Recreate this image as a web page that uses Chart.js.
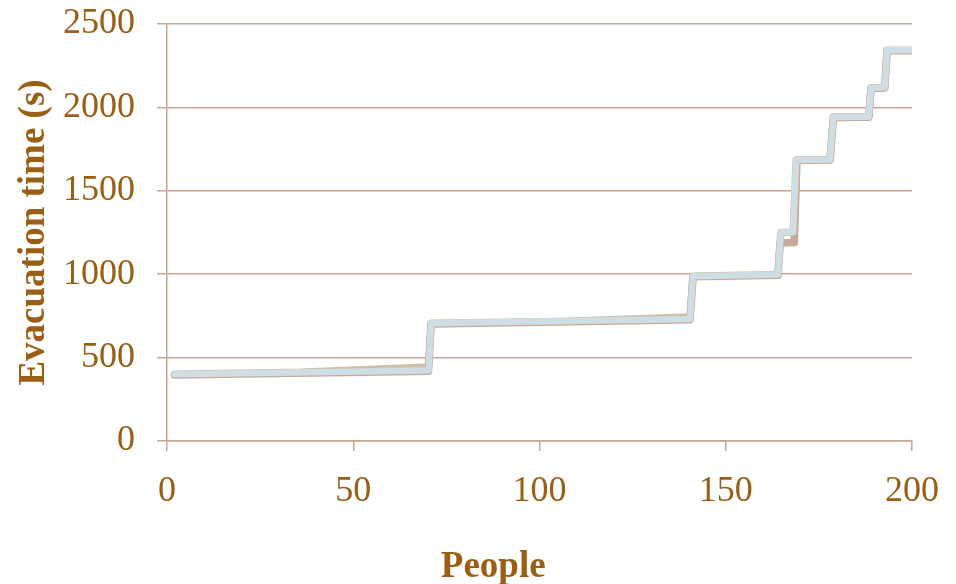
<!DOCTYPE html>
<html>
<head>
<meta charset="utf-8">
<script src="https://cdn.jsdelivr.net/npm/chart.js@4"></script>
<style>
  html, body { margin: 0; padding: 0; background: #fff; }
  #wrap { width: 956px; height: 584px; }
</style>
</head>
<body>
<div id="wrap"><canvas id="c" width="956" height="584"></canvas></div>
<script>
// corner points of each step line (people, seconds)
const blueX  = [2, 70.2, 70.9, 140.4, 141.2, 164.0, 164.8, 168.1, 168.9, 178.0, 178.9, 188.4, 189.0, 192.7, 193.3, 200];
const blueY  = [400, 423, 706, 731, 988, 998, 1250, 1252, 1685, 1688, 1942, 1944, 2118, 2120, 2342, 2342];

const brownX = [2, 70.2, 70.9, 140.4, 141.2, 164.0, 164.6, 168.4, 169.1, 178.0, 178.9, 188.4, 189.0, 192.7, 193.3, 200];
const brownY = [396, 418, 702, 727, 984, 993, 1187, 1190, 1682, 1685, 1940, 1941, 2115, 2117, 2340, 2340];

const tanX   = [2, 36, 70.2, 70.9, 105.5, 140.4, 141.2, 164.0, 164.8, 168.1, 168.9, 178.0, 178.9, 188.4, 189.0, 192.7, 193.3, 200];
const tanY   = [400, 412, 444, 706, 716, 743, 988, 998, 1250, 1252, 1685, 1688, 1942, 1944, 2118, 2120, 2342, 2342];

const xTicks = [0, 50, 100, 150, 200];
const yTicks = [0, 500, 1000, 1500, 2000, 2500];

const textColor = '#9a5f15';
const gridColor = '#c6a692';
const fontFamily = "'Liberation Serif', 'Times New Roman', serif";

const pts = (xs, ys) => xs.map((x, i) => ({x, y: ys[i]}));

function lineSet(label, xs, ys, color, width) {
  return {
    label,
    data: pts(xs, ys),
    borderColor: color,
    borderWidth: width,
    borderCapStyle: 'round',
    borderJoinStyle: 'round',
    pointRadius: 0,
    tension: 0,
    fill: false,
  };
}

new Chart(document.getElementById('c').getContext('2d'), {
  type: 'line',
  data: {
    datasets: [
      lineSet('blue', blueX, blueY, '#cfdee4', 6.5),
      lineSet('brown', brownX, brownY, '#c9a898', 7.5),
      lineSet('tan', tanX, tanY, '#cdc2a8', 7.5),
    ]
  },
  options: {
    responsive: false,
    animation: false,
    layout: { padding: { top: 24, right: 44, bottom: 0, left: 0 } },
    plugins: { legend: { display: false }, tooltip: { enabled: false } },
    scales: {
      x: {
        type: 'linear',
        min: 0,
        max: 200,
        afterFit: s => { s.height = 143; s.paddingLeft = 0; s.paddingRight = 0; },
        afterBuildTicks: s => { s.ticks = xTicks.map(v => ({value: v})); },
        grid: { drawOnChartArea: false, drawTicks: true, tickLength: 10, color: gridColor, lineWidth: 1.5 },
        border: { display: true, color: gridColor, width: 1.5 },
        ticks: { color: textColor, font: { family: fontFamily, size: 36 }, padding: 19, maxRotation: 0,
                 callback: v => String(v) },
        title: {
          display: true,
          // trailing spaces pull the title left, as in the original
          text: 'People\u00a0\u00a0\u00a0\u00a0\u00a0\u00a0\u00a0\u00a0\u00a0\u00a0',
          color: textColor,
          font: { family: fontFamily, size: 37, weight: 'bold' },
          padding: { top: 0, bottom: -6 }
        }
      },
      y: {
        min: 0,
        max: 2500,
        afterFit: s => { s.width = 167; s.paddingTop = 0; s.paddingBottom = 0; },
        afterBuildTicks: s => { s.ticks = yTicks.map(v => ({value: v})); },
        grid: { drawTicks: true, tickLength: 10, color: gridColor, lineWidth: 1.5 },
        border: { display: true, color: gridColor, width: 1.5 },
        ticks: { color: textColor, font: { family: fontFamily, size: 36 }, padding: 22,
                 callback: v => String(v) },
        title: {
          display: true,
          text: 'Evacuation time (s)',
          color: textColor,
          font: { family: fontFamily, size: 37, weight: 'bold' },
          padding: { top: 12, bottom: 0 }
        }
      }
    }
  }
});
</script>
</body>
</html>
